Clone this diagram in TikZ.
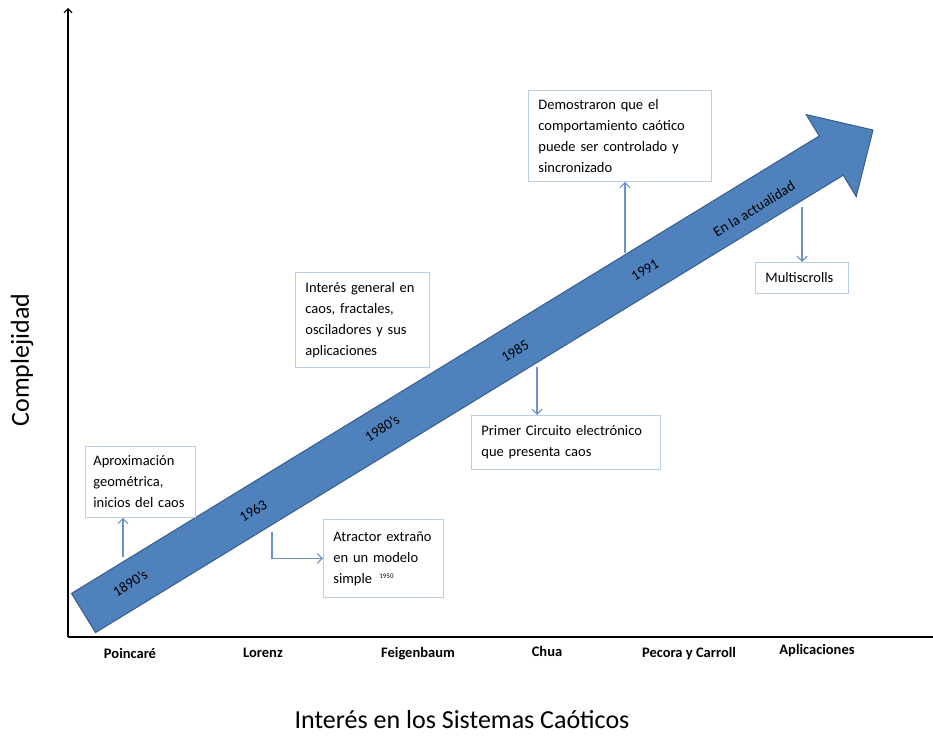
\documentclass[tikz,border=0pt]{standalone}
\usepackage{fontspec}
\setmainfont{Carlito}
\usetikzlibrary{arrows.meta}

\definecolor{arrowblue}{HTML}{4F81BD}
\definecolor{arrowedge}{HTML}{385D8A}
\definecolor{boxedge}{HTML}{B9CDE5}
\definecolor{linkblue}{HTML}{6A93CB}

\tikzset{
  infobox/.style={draw=boxedge, line width=0.8pt, anchor=north west, align=left, inner xsep=10pt, inner ysep=0pt, font=\fontsize{14.5}{21}\selectfont},
  link/.style={draw=linkblue, line width=1.1pt, -{Straight Barb[length=5pt,width=10pt]}},
  yearlabel/.style={rotate=31.5, inner sep=0pt, font=\fontsize{14.5}{17}\selectfont},
  author/.style={inner sep=0pt, font=\bfseries\fontsize{14.5}{17}\selectfont},
}

\begin{document}
\begin{tikzpicture}[x=1pt,y=-1pt]

\useasboundingbox (0,0) rectangle (933,736);

\coordinate (origin) at (68,637);
\coordinate (ytop) at (68,8);
\coordinate (xend) at (933,637);

\draw[line width=1.2pt, -{Straight Barb[length=4pt,width=8pt]}] (origin) -- (ytop);

\draw[line width=1.2pt] (origin) -- (xend);

\draw[fill=arrowblue, draw=arrowedge, line width=1pt] (71.5,593.4) -- (819.2,136) -- (806.2,114.6) -- (873,130) -- (856.2,196.6) -- (843.2,175.2) -- (95.5,632.6) -- cycle;

\node[yearlabel] (y1890) at (130,583) {1890's};
\node[yearlabel] (y1963) at (253,511) {1963};
\node[yearlabel] (y1980) at (382,428) {1980's};
\node[yearlabel] (y1985) at (515,351) {1985};
\node[yearlabel] (y1991) at (645,270) {1991};
\node[yearlabel] (yhoy) at (754,209) {En la actualidad};

\node[infobox, inner xsep=8pt, text width=94pt, minimum height=71pt] (aprox) at (85,446) {Aproximación\\geométrica,\\inicios del caos};

\node[infobox, text width=100pt, minimum height=78pt] (atractor) at (323,519) {Atractor extraño\\en un modelo\\simple\enspace\raisebox{0.6ex}{\fontsize{7}{7}\selectfont 1950}};

\node[infobox, text width=114pt, minimum height=95pt] (interes) at (295,272) {Interés general en\\caos, fractales,\\osciladores y sus\\aplicaciones};

\node[infobox, text width=169pt, minimum height=54pt] (circuito) at (471,415) {Primer Circuito electrónico\\que presenta caos};

\node[infobox, text width=163pt, minimum height=91pt] (demo) at (528,90) {Demostraron que el\\comportamiento caótico\\puede ser controlado y\\sincronizado};

\node[infobox, text width=73pt, minimum height=31pt] (multi) at (755,262) {Multiscrolls};

\coordinate (c1) at (123,557);
\coordinate (c2) at (272,532);
\coordinate (c4) at (537,367);
\coordinate (c5) at (625,253);
\coordinate (c6) at (802,207);

\draw[link] (c1) -- (aprox.south -| c1);
\draw[link] (c2) |- (atractor.west);
\draw[link] (c4) -- (circuito.north -| c4);
\draw[link] (c5) -- (demo.south -| c5);
\draw[link] (c6) -- (multi.north -| c6);

\node[author] (poincare) at (130,653) {Poincaré};
\node[author] (lorenz) at (263,653) {Lorenz};
\node[author] (feigen) at (418,654) {Feigenbaum};
\node[author] (chua) at (547,651) {Chua};
\node[author] (pecora) at (689,654) {Pecora y Carroll};
\node[author] (aplic) at (817,651) {Aplicaciones};

\node[font=\fontsize{26}{30}\selectfont] (xlabel) at (462,720) {Interés en los Sistemas Caóticos};
\node[rotate=90, font=\fontsize{26}{30}\selectfont] (ylabel) at (22,360) {Complejidad};

\end{tikzpicture}
\end{document}
